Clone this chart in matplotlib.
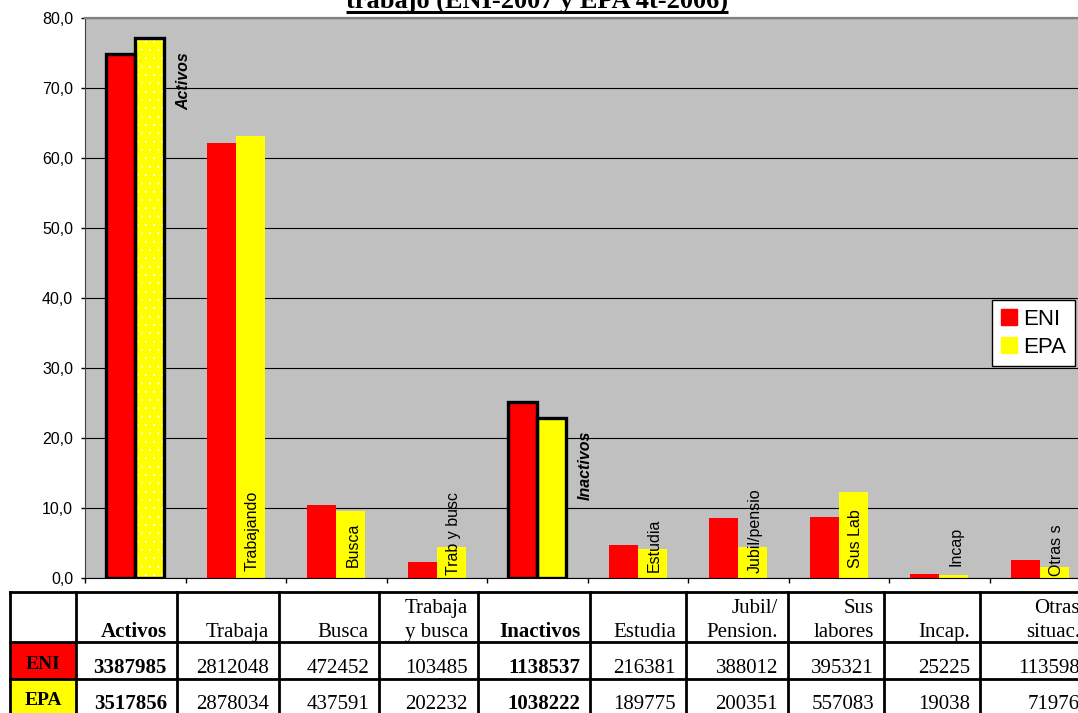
import numpy as np
import matplotlib.pyplot as plt
from matplotlib.patches import Rectangle, Patch

# Poblacion por relacion con la actividad: ENI-2007 frente a EPA 4t-2006
categorias = ['Activos', 'Trabaja', 'Busca', 'Trabaja\ny busca', 'Inactivos',
              'Estudia', 'Jubil/\nPension.', 'Sus\nlabores', 'Incap.', 'Otras\nsituac.']
etiquetas = ['Activos', 'Trabajando', 'Busca', 'Trab y busc', 'Inactivos',
             'Estudia', 'Jubil/pensio', 'Sus Lab', 'Incap', 'Otras s']
eni = np.array([3387985, 2812048, 472452, 103485, 1138537,
                216381, 388012, 395321, 25225, 113598])
epa = np.array([3517856, 2878034, 437591, 202232, 1038222,
                189775, 200351, 557083, 19038, 71976])
totales = [0, 4]   # Activos + Inactivos = poblacion total

eni_pct = eni / (eni[0] + eni[4]) * 100
epa_pct = epa / (epa[0] + epa[4]) * 100

W, H = 1078, 713
fig = plt.figure(figsize=(W / 100, H / 100), dpi=100)
plt.rcParams['font.family'] = ['Liberation Sans', 'DejaVu Sans']
plt.rcParams['hatch.linewidth'] = 0.3

ax = fig.add_axes([85 / W, 1 - 578 / H, 1005 / W, 560 / H])
ax.set_facecolor('#C0C0C0')

x = np.arange(len(categorias)) + 0.5
w = 0.289
ax.bar(x - w / 2, eni_pct, width=w, color='red', zorder=2)
ax.bar(x + w / 2, epa_pct, width=w, color='yellow', zorder=2)
# trama punteada en la barra EPA de activos
ax.bar(x[0] + w / 2, epa_pct[0], width=w, facecolor='yellow', edgecolor='white',
       hatch='..', linewidth=0, zorder=2)
# contorno grueso para los totales
ax.bar(x[totales] - w / 2, eni_pct[totales], width=w, fill=False,
       edgecolor='black', linewidth=2.4, zorder=3)
ax.bar(x[totales] + w / 2, epa_pct[totales], width=w, fill=False,
       edgecolor='black', linewidth=2.4, zorder=3)

# textos verticales dentro de las barras
pos_y = [75.1, 1.0, 1.6, 0.4, 21.1, 0.9, 0.7, 1.4, 1.7, 0.3]
for i, lab in enumerate(etiquetas):
    if i in totales:
        ax.text(x[i] + 0.48, pos_y[i], lab, rotation=90, ha='center', va='top',
                fontsize=11.5, fontweight='bold', fontstyle='italic', zorder=4)
    else:
        ax.text(x[i] + w / 2 + 0.02, pos_y[i], lab, rotation=90, ha='center',
                va='bottom', fontsize=11.5, zorder=4)

ax.set_xlim(0, len(categorias))
ax.set_ylim(0, 80)
ax.set_yticks(np.arange(0, 81, 10))
ax.set_yticklabels([f'{v:.1f}'.replace('.', ',') for v in np.arange(0, 81, 10)])
ax.set_xticks(np.arange(0, len(categorias) + 1))
ax.tick_params(axis='x', direction='out', length=3.6, width=1, labelbottom=False)
ax.tick_params(axis='y', direction='out', length=3, width=1, labelsize=11.5, pad=5.5)
ax.yaxis.grid(True, color='black', linewidth=0.8)
ax.set_axisbelow(True)
ax.spines['top'].set_color('#808080')
ax.spines['top'].set_linewidth(1.6)
ax.spines['left'].set_color('#404040')
ax.spines['right'].set_visible(False)
ax.spines['bottom'].set_color('black')

fig.legend(handles=[Patch(color='red', label='ENI'), Patch(color='yellow', label='EPA')],
           loc='upper left', bbox_to_anchor=(992 / W, 1 - 300 / H), borderaxespad=0,
           fontsize=16, handlelength=0.72, handleheight=0.72, handletextpad=0.3,
           labelspacing=0.3, borderpad=0.4, fancybox=False, framealpha=1,
           edgecolor='black')

# capa en pixeles para el titulo y la tabla de datos
tab = fig.add_axes([0, 0, 1, 1])
tab.set_xlim(0, W)
tab.set_ylim(H, 0)
tab.axis('off')

serif = ['Liberation Serif', 'DejaVu Serif']
titulo = tab.text(537, 8, 'trabajo (ENI-2007 y EPA 4t-2006)', ha='center',
                  va='baseline', fontsize=19, fontweight='bold', family=serif)
fig.canvas.draw()
bb = titulo.get_window_extent().transformed(tab.transData.inverted())
tab.plot([bb.x0, bb.x1], [11.5, 11.5], color='black', lw=2.2, solid_capstyle='butt')

cols = [10, 76, 177, 279, 379, 478, 590, 686, 788, 884, 980, 1090]
filas = [592, 642, 679, 720]
tab.add_patch(Rectangle((10, 642), 66, 37, facecolor='red', zorder=1))
tab.add_patch(Rectangle((10, 679), 66, 41, facecolor='yellow', zorder=1))
for yy in filas[:-1]:
    tab.plot([cols[0], cols[-1]], [yy, yy], color='black', lw=2, zorder=2)
for xx in cols:
    tab.plot([xx, xx], [filas[0], filas[-1]], color='black', lw=2, zorder=2)

tab.text(43, 669, 'ENI', ha='center', va='baseline', fontsize=14,
         fontweight='bold', family=serif)
tab.text(43, 705, 'EPA', ha='center', va='baseline', fontsize=14,
         fontweight='bold', family=serif)

for j, cat in enumerate(categorias):
    derecha = cols[j + 2] - 10
    peso = 'bold' if j in totales else 'normal'
    for k, linea in enumerate(reversed(cat.split('\n'))):
        tab.text(derecha, 637 - 24 * k, linea, ha='right', va='baseline',
                 fontsize=15, fontweight=peso, family=serif)
    tab.text(derecha, 673, str(eni[j]), ha='right', va='baseline',
             fontsize=15, fontweight=peso, family=serif)
    tab.text(derecha, 709, str(epa[j]), ha='right', va='baseline',
             fontsize=15, fontweight=peso, family=serif)

fig.savefig('out.png', dpi=100)
